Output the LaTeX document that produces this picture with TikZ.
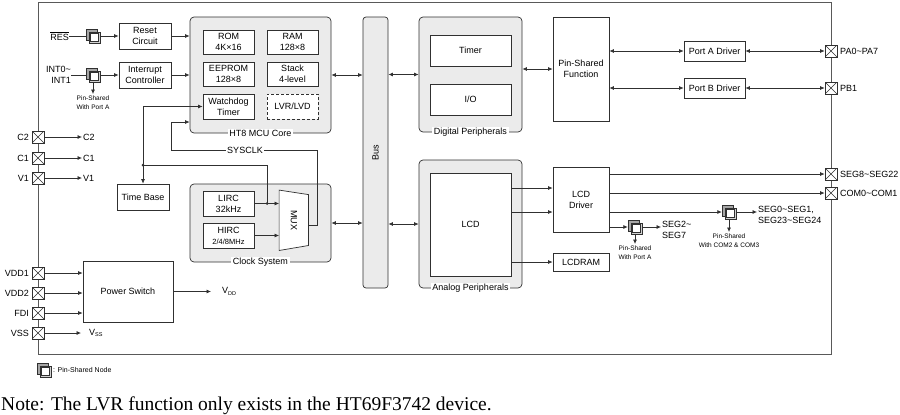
\documentclass[tikz,border=0pt]{standalone}
\usepackage{fontspec}
\setmainfont{Liberation Sans}
\newfontfamily\notefont{Liberation Serif}
\usetikzlibrary{arrows.meta,calc}
\definecolor{grpfill}{HTML}{EBEBEB}
\definecolor{linec}{HTML}{303030}
\newcommand\fn{\fontsize{9}{11}\selectfont}
\newcommand\fsm{\fontsize{6.5}{8.5}\selectfont}
\newcommand\subsm[1]{\raisebox{-0.35ex}{\fontsize{5.5}{6}\selectfont #1}}
\newcommand\pssym[1]{%
  \draw[linec, line width=1pt, fill=gray!70] ([shift={(-7pt,7pt)}]#1.center) rectangle ([shift={(4pt,-4pt)}]#1.center);
  \draw[linec, line width=0.8pt, fill=gray!35] ([shift={(-4pt,4pt)}]#1.center) rectangle ([shift={(7pt,-7pt)}]#1.center);
  \draw[linec, line width=0.5pt, fill=white] ([shift={(-2.3pt,2.3pt)}]#1.center) rectangle ([shift={(5.3pt,-5.3pt)}]#1.center);}
\begin{document}
\begin{tikzpicture}[x=1pt,y=-1pt,
  box/.style={draw=linec, fill=white, line width=0.7pt, align=center, inner sep=0pt, font=\fn},
  grp/.style={draw=linec, fill=grpfill, line width=0.7pt, rounded corners=4pt, inner sep=0pt},
  glabel/.style={fill=white, inner sep=1.5pt, font=\fn},
  arr/.style={draw=linec, line width=0.7pt, -{Latex[length=4.5pt,width=4pt]}},
  darr/.style={draw=linec, line width=0.7pt, {Latex[length=4.5pt,width=4pt]}-{Latex[length=4.5pt,width=4pt]}},
  ln/.style={draw=linec, line width=0.7pt},
  txt/.style={font=\fn, inner sep=0pt},
  small/.style={font=\fsm, inner sep=0pt, align=center},
  pin/.style={draw=linec, fill=white, line width=0.7pt, minimum size=12pt, inner sep=0pt,
    path picture={\draw[linec, line width=0.6pt] (path picture bounding box.north west) -- (path picture bounding box.south east)
      (path picture bounding box.north east) -- (path picture bounding box.south west);}},
  psn/.style={minimum size=14pt, inner sep=0pt},
  dot/.style={circle, fill=linec, inner sep=0pt, minimum size=3pt}
]
\useasboundingbox (0,0) rectangle (900,415);

% outer frame
\node[draw=black!65, line width=0.8pt, minimum width=793, minimum height=352, inner sep=0pt] (outer) at (434.5,178) {};

% ---------- MCU core ----------
\node[grp, minimum width=141, minimum height=116] (mcu) at (260.5,75) {};
\node[box, minimum width=51, minimum height=24] (rom) at (228.5,42) {ROM\\4K×16};
\node[box, minimum width=51, minimum height=24] (ram) at (292.5,42) {RAM\\128×8};
\node[box, minimum width=51, minimum height=24] (eep) at (228.5,74) {EEPROM\\128×8};
\node[box, minimum width=51, minimum height=24] (stk) at (292.5,74) {Stack\\4-level};
\node[box, minimum width=51, minimum height=25] (wdt) at (228.5,106.5) {Watchdog\\Timer};
\node[box, dashed, dash pattern=on 3pt off 2pt, line width=0.9pt, minimum width=51, minimum height=25] (lvr) at (292.5,106.5) {LVR/LVD};
\node[glabel] (mculbl) at (mcu.south) {HT8 MCU Core};

% ---------- Clock system ----------
\node[grp, minimum width=141, minimum height=78] (clk) at (260.5,223) {};
\node[box, minimum width=51, minimum height=25] (lirc) at (228.5,203.5) {LIRC\\32kHz};
\node[box, minimum width=51, minimum height=25] (hirc) at (228.5,235.5) {HIRC\\{\fontsize{7.5}{9}\selectfont 2/4/8MHz}};
\node[minimum width=29, minimum height=60, inner sep=0pt] (mux) at (293.8,220.3) {};
\draw[ln, fill=white] (mux.north west) -- ([yshift=-4.5pt]mux.north east) -- ([yshift=5pt]mux.south east) -- (mux.south west) -- cycle;
\node[txt, rotate=-90] (muxlbl) at (mux.center) {MUX};
\node[glabel] (clklbl) at (clk.south) {Clock System};

% ---------- Bus ----------
\node[grp, rounded corners=3pt, minimum width=25, minimum height=271] (bus) at (375.5,152.5) {};
\node[txt, rotate=90] (buslbl) at (375.5,153) {Bus};

% ---------- Digital peripherals ----------
\node[grp, minimum width=103, minimum height=115] (dig) at (470.5,74.5) {};
\node[box, minimum width=81, minimum height=31] (tmr) at (470.5,50.5) {Timer};
\node[box, minimum width=81, minimum height=31] (io) at (470.5,99.5) {I/O};
\node[glabel] (diglbl) at (dig.south) {Digital Peripherals};

% ---------- Analog peripherals ----------
\node[grp, minimum width=103, minimum height=128] (ana) at (470.5,224) {};
\node[box, minimum width=81, minimum height=103] (lcd) at (470.5,224.5) {LCD};
\node[glabel] (analbl) at (ana.south) {Analog Peripherals};

% ---------- right-hand blocks ----------
\node[box, minimum width=56, minimum height=104] (psf) at (581,69) {Pin-Shared\\Function};
\node[box, minimum width=61, minimum height=20] (pa) at (714.5,51) {Port A Driver};
\node[box, minimum width=61, minimum height=20] (pb) at (714.5,88) {Port B Driver};
\node[box, minimum width=56, minimum height=65] (drv) at (581,199.5) {LCD\\Driver};
\node[box, minimum width=56, minimum height=18] (lram) at (581,262) {LCDRAM};

% ---------- left-hand blocks ----------
\node[box, minimum width=52, minimum height=26] (rst) at (145,36) {Reset\\Circuit};
\node[box, minimum width=52, minimum height=26] (intc) at (145,75) {Interrupt\\Controller};
\node[box, minimum width=52, minimum height=26] (tb) at (143,197) {Time Base};
\node[box, minimum width=90, minimum height=61] (psw) at (128,291.5) {Power Switch};

% ---------- pin-shared nodes ----------
\node[psn] (resn) at (93,36) {};
\node[psn] (intn) at (93,75) {};
\node[psn] (seg2n) at (635,227) {};
\node[psn] (seg0n) at (729,212) {};
\node[psn] (legn) at (44,370) {};

% ---------- texts ----------
\node[txt, anchor=east] (reslbl) at (69,36) {$\overline{\hbox{\fn RES}}$};
\node[txt, anchor=east, align=right] (intlbl) at (71,74.5) {INT0\textasciitilde\\INT1};
\node[small, anchor=north] (intps) at (93,96) {Pin-Shared\\With Port A};
\node[small, anchor=north] (seg2ps) at (635,246) {Pin-Shared\\With Port A};
\node[small, anchor=north] (seg0ps) at (729,234) {Pin-Shared\\With COM2 \& COM3};
\node[txt, anchor=north west, align=left] (tSEG2) at (662,221.5) {SEG2\textasciitilde\\SEG7};
\node[txt, anchor=north west, align=left] (tSEG0) at (758,206.5) {SEG0\textasciitilde SEG1,\\SEG23\textasciitilde SEG24};
\node[glabel] (sysclk) at (245,150) {SYSCLK};

% ---------- connectors: left ----------
\draw[ln] (reslbl.east) -- (resn.west);
\draw[arr] (resn.east) -- (rst.west);
\draw[arr] (rst.east) -- (mcu.west |- rst.east);
\draw[ln] (intlbl.east |- intn.west) -- (intn.west);
\draw[arr] (intn.east) -- (intc.west);
\draw[arr] (intc.east) -- (mcu.west |- intc.east);
\draw[arr] (intn.south) -- ([yshift=2pt]intps.north);

\coordinate (j1) at (tb.north |- 0,165);
\coordinate (j2) at (267,0 |- lirc.east);
\draw[arr] (j1) |- (wdt.west);
\draw[arr] (j1) -- (tb.north);
\draw[ln] (j1) -| (j2);
\node[dot] (d1) at (j1) {};
\node[dot] (d2) at (j2) {};

\draw[arr] (lirc.east) -- (mux.west |- lirc.east);
\draw[arr] (hirc.east) -- (mux.west |- hirc.east);
\coordinate (mo) at (mux.east |- 0,225);
\draw[ln] (mo) -| (317,150) -- (sysclk.east);
\draw[arr] (sysclk.west) -| (171,122) -- (mcu.west |- 0,122);

% ---------- bus connectors ----------
\draw[darr] (mcu.east) -- (bus.west |- mcu.east);
\draw[darr] (bus.east |- dig.west) -- (dig.west);
\draw[darr] (clk.east) -- (bus.west |- clk.east);
\draw[darr] (bus.east |- ana.west) -- (ana.west);
\draw[darr] (dig.east |- psf.west) -- (psf.west);
\draw[darr] (psf.east |- pa.west) -- (pa.west);
\draw[darr] (psf.east |- pb.west) -- (pb.west);

% ---------- LCD ----------
\draw[arr] (lcd.east |- 0,188) -- (drv.west |- 0,188);
\draw[arr] (lcd.east |- 0,212) -- (drv.west |- 0,212);
\draw[arr] (lcd.east |- lram.west) -- (lram.west);

% ---------- pins ----------
\node[pin] (pPA) at (831,51) {};
\node[pin] (pPB) at (831,88) {};
\node[pin] (pSEG) at (831,174) {};
\node[pin] (pCOM) at (831,193) {};
\node[txt, anchor=west] (tPA) at (840,51) {PA0\textasciitilde PA7};
\node[txt, anchor=west] (tPB) at (840,88) {PB1};
\node[txt, anchor=west] (tSEG) at (840,174) {SEG8\textasciitilde SEG22};
\node[txt, anchor=west] (tCOM) at (840,193) {COM0\textasciitilde COM1};
\draw[darr] (pa.east) -- (pPA.west);
\draw[darr] (pb.east) -- (pPB.west);
\draw[arr] (drv.east |- pSEG.west) -- (pSEG.west);
\draw[arr] (drv.east |- pCOM.west) -- (pCOM.west);
\draw[arr] (drv.east |- seg0n.west) -- (seg0n.west);
\draw[arr] (drv.east |- seg2n.west) -- (seg2n.west);
\draw[arr] (seg0n.east) -- ([xshift=-1pt]tSEG0.west |- seg0n.east);
\draw[arr] (seg2n.east) -- ([xshift=-1pt]tSEG2.west |- seg2n.east);
\draw[arr] (seg0n.south) -- ([yshift=2pt]seg0ps.north);
\draw[arr] (seg2n.south) -- ([yshift=2pt]seg2ps.north);

\node[pin] (pC2) at (38,137) {};
\node[pin] (pC1) at (38,158) {};
\node[pin] (pV1) at (38,178) {};
\node[pin] (pVDD1) at (38,273) {};
\node[pin] (pVDD2) at (38,293) {};
\node[pin] (pFDI) at (38,313) {};
\node[pin] (pVSS) at (38,333) {};
\node[txt, anchor=east] (lC2) at (29,137) {C2};
\node[txt, anchor=east] (lC1) at (29,158) {C1};
\node[txt, anchor=east] (lV1) at (29,178) {V1};
\node[txt, anchor=east] (lVDD1) at (29,273) {VDD1};
\node[txt, anchor=east] (lVDD2) at (29,293) {VDD2};
\node[txt, anchor=east] (lFDI) at (29,313) {FDI};
\node[txt, anchor=east] (lVSS) at (29,333) {VSS};
\node[txt, anchor=west] (tC2) at (83,137) {C2};
\node[txt, anchor=west] (tC1) at (83,158) {C1};
\node[txt, anchor=west] (tV1) at (83,178) {V1};
\node[txt, anchor=west] (tVSS) at (89,333) {V\subsm{SS}};
\node[txt, anchor=west] (tVDD) at (222,291.5) {V\subsm{DD}};
\draw[arr] (pC2.east) -- ([xshift=-1pt]tC2.west);
\draw[arr] (pC1.east) -- ([xshift=-1pt]tC1.west);
\draw[arr] (pV1.east) -- ([xshift=-1pt]tV1.west);
\draw[arr] (pVSS.east) -- ([xshift=-8pt]tVSS.west);
\draw[arr] (pVDD1.east) -- (psw.west |- pVDD1.east);
\draw[arr] (pVDD2.east) -- (psw.west |- pVDD2.east);
\draw[arr] (pFDI.east) -- (psw.west |- pFDI.east);
\draw[arr] (psw.east) -- ([xshift=-11pt]tVDD.west);

% pin-shared symbols
\pssym{resn}
\pssym{intn}
\pssym{seg2n}
\pssym{seg0n}
\pssym{legn}

% legend and note
\node[small, anchor=west, font=\fontsize{7}{8}\selectfont] (legt) at (53,370) {: Pin-Shared Node};
\node[anchor=base west, inner sep=0pt, font=\notefont\fontsize{19.5}{22}\selectfont] (note) at (1,410) {Note: The LVR function only exists in the HT69F3742 device.};
\end{tikzpicture}
\end{document}
